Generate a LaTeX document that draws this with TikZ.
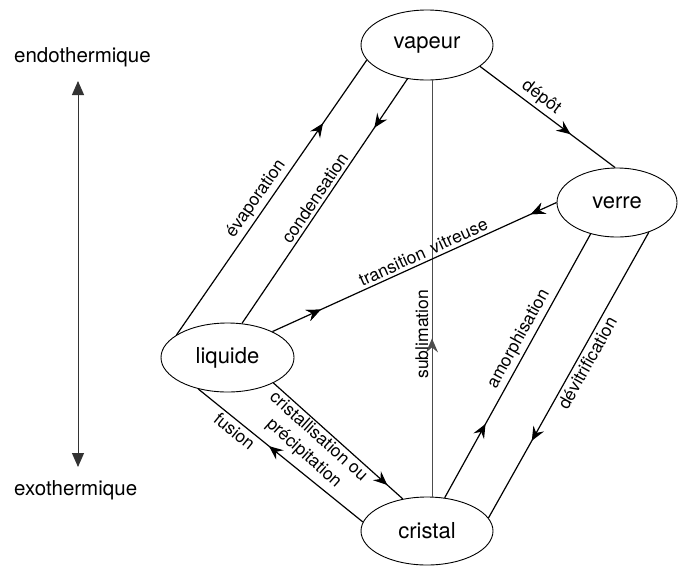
\documentclass[tikz,border=0pt]{standalone}
\usepackage{fontspec}
\setmainfont{TeX Gyre Heros}
\usetikzlibrary{arrows.meta,decorations.markings,shapes.geometric}
\begin{document}
\begin{tikzpicture}[x=1pt,y=-1pt,
  state/.style={draw, ellipse, line width=0.9pt, inner sep=0pt, font=\fontsize{22}{24}\selectfont},
  conn/.style={line width=1.2pt},
  lab/.style={font=\fontsize{17.5}{22}\selectfont, sloped, inner sep=3pt},
  side/.style={font=\fontsize{20.5}{22}\selectfont, anchor=base west, inner sep=0pt},
  fwd/.style={postaction={decorate}, decoration={markings, mark=at position #1 with {\arrow{Stealth[length=14pt,width=12pt,inset=5pt]}}}},
  bwd/.style={postaction={decorate}, decoration={markings, mark=at position #1 with {\arrowreversed{Stealth[length=14pt,width=12pt,inset=5pt]}}}}
]
\path[fill=white, use as bounding box] (0,0) rectangle (678,566);

% states
\node[state, minimum width=132pt, minimum height=70pt] (vapeur) at (427,45) {vapeur};
\node[state, minimum width=120pt, minimum height=69pt] (verre) at (617,202.5) {verre};
\node[state, minimum width=133pt, minimum height=69pt] (liquide) at (227.5,357.5) {liquide};
\node[state, minimum width=132pt, minimum height=68pt] (cristal) at (427,531) {cristal};

% side scale
\node[side] (endo) at (14,62) {endothermique};
\node[side] (exo) at (14,495) {exothermique};
\coordinate (axtop) at (78,81);
\coordinate (axbot) at (78,467);
\draw[line width=1pt, black!80, {Triangle[length=14pt,width=12pt]}-{Triangle[length=14pt,width=12pt]}] (axtop) -- (axbot);

% transitions
\draw[conn, fwd=0.77] (liquide.156.4) -- node[lab, above, pos=0.47] {évaporation} (vapeur.194);
\draw[conn, fwd=0.2] (vapeur.240.8) -- node[lab, above, pos=0.51] {condensation} (liquide.67.2);
\draw[line width=1pt, black!70, fwd=0.38] ([xshift=5pt]cristal.north) -- node[lab, above, pos=0.39, black] {sublimation} ([xshift=5pt]vapeur.south);
\draw[conn, fwd=0.67] (vapeur.338.4) -- node[lab, above, pos=0.4] {dépôt} (verre.93);
\draw[conn, fwd=0.17, bwd=0.91] (liquide.30.8)
  -- node[lab, anchor=south east, pos=0.561] {transition}
     node[lab, anchor=south west, pos=0.561] {vitreuse} (verre.180.5);
\draw[conn, fwd=0.28] (cristal.62.1) -- node[lab, above, pos=0.58] {amorphisation} (verre.230.3);
\draw[conn, fwd=0.73] (verre.317.9) -- node[lab, below, pos=0.44] {dévitrification} (cristal.12);
\draw[conn, fwd=0.57] (cristal.172.9) -- node[lab, below, pos=0.74] {fusion} (liquide.227.9);
\draw[conn, fwd=0.88] (liquide.331.7) -- node[lab, below, pos=0.4, inner sep=1.5pt, align=center] {cristallisation ou\\précipitation} (cristal.127.1);
\end{tikzpicture}
\end{document}
